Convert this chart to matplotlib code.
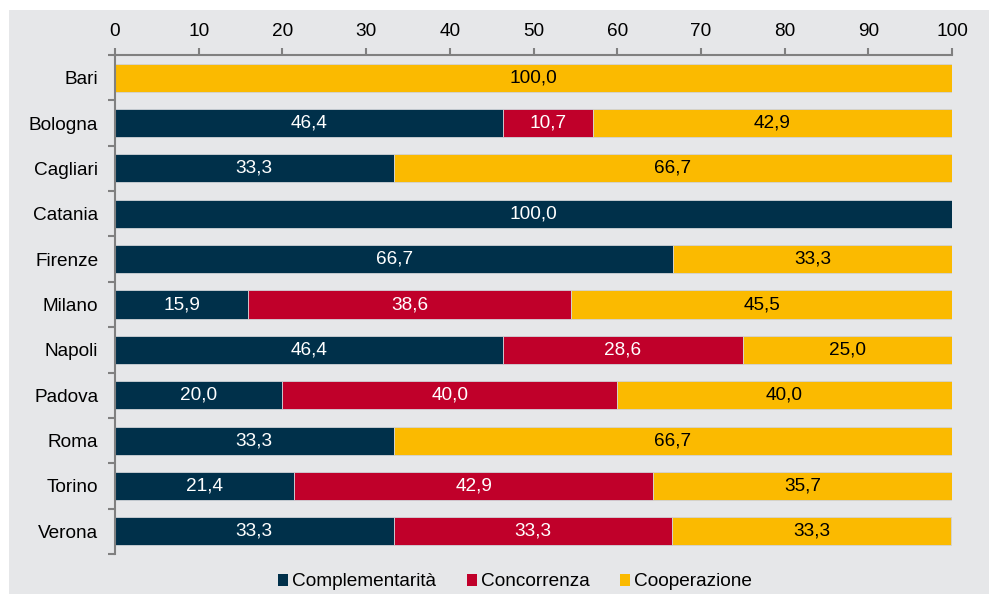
import matplotlib.pyplot as plt
from matplotlib.patches import Rectangle
import numpy as np

plt.rcParams['font.family'] = ['Liberation Sans', 'DejaVu Sans']

cities = ["Bari", "Bologna", "Cagliari", "Catania", "Firenze", "Milano",
          "Napoli", "Padova", "Roma", "Torino", "Verona"]
complementarita = [0, 46.4, 33.3, 100.0, 66.7, 15.9, 46.4, 20.0, 33.3, 21.4, 33.3]
concorrenza = [0, 10.7, 0, 0, 0, 38.6, 28.6, 40.0, 0, 42.9, 33.3]
cooperazione = [100.0, 42.9, 66.7, 0, 33.3, 45.5, 25.0, 40.0, 66.7, 35.7, 33.3]
series_names = ["Complementarità", "Concorrenza", "Cooperazione"]
colors = ["#00304A", "#C0002A", "#FBBA00"]
text_colors = ["white", "white", "black"]
xticks = [0, 10, 20, 30, 40, 50, 60, 70, 80, 90, 100]

fs = 13.7
bg = "#E6E7E9"
fig = plt.figure(figsize=(9.89, 5.94), dpi=100, facecolor="white")
fig.patches.append(Rectangle((9/989, 0), 1 - 9/989, 1 - 10/594, transform=fig.transFigure,
                             facecolor=bg, edgecolor="none", zorder=-10))
ax = fig.add_axes([115/989, 1 - 554/594, (952 - 115)/989, (554 - 55)/594])
ax.set_facecolor(bg)

y = np.arange(len(cities))
left = np.zeros(len(cities))
data = [complementarita, concorrenza, cooperazione]
for vals, name, col, tc in zip(data, series_names, colors, text_colors):
    vals = np.array(vals)
    ax.barh(y, vals, left=left, height=0.62, color=col, label=name,
            edgecolor="#D0D3D8", linewidth=0.6)
    for yi, (l, v) in enumerate(zip(left, vals)):
        if v > 0:
            ax.text(l + v / 2, yi, f"{v:.1f}".replace(".", ","), ha="center", va="center",
                    color=tc, fontsize=fs)
    left += vals

ax.set_xlim(0, 100)
ax.set_ylim(len(cities) - 0.5, -0.5)
ax.xaxis.tick_top()
ax.set_xticks(xticks)
ax.set_xticklabels([str(t) for t in xticks], fontsize=fs)
ax.set_yticks(y)
ax.set_yticklabels(cities, fontsize=fs)
ax.tick_params(axis="y", which="major", length=0, pad=12)
ax.set_yticks(np.arange(-0.5, len(cities), 1), minor=True)
ax.tick_params(axis="y", which="minor", length=5, color="#808080", width=1.5)
ax.tick_params(axis="x", length=5, color="#808080", width=1.5, pad=6)
for s in ["right", "bottom"]:
    ax.spines[s].set_visible(False)
for s in ["left", "top"]:
    ax.spines[s].set_color("#808080")
    ax.spines[s].set_linewidth(1.5)

handles = [Rectangle((0, 0), 1, 1, facecolor=c) for c in colors]
fig.legend(handles, series_names, loc="center", bbox_to_anchor=(515/989, 1 - 582/594),
           ncol=3, frameon=False, fontsize=fs, handlelength=0.55, handleheight=0.55,
           handletextpad=0.2, columnspacing=1.6)

fig.savefig("out.png", dpi=100, facecolor=fig.get_facecolor())
